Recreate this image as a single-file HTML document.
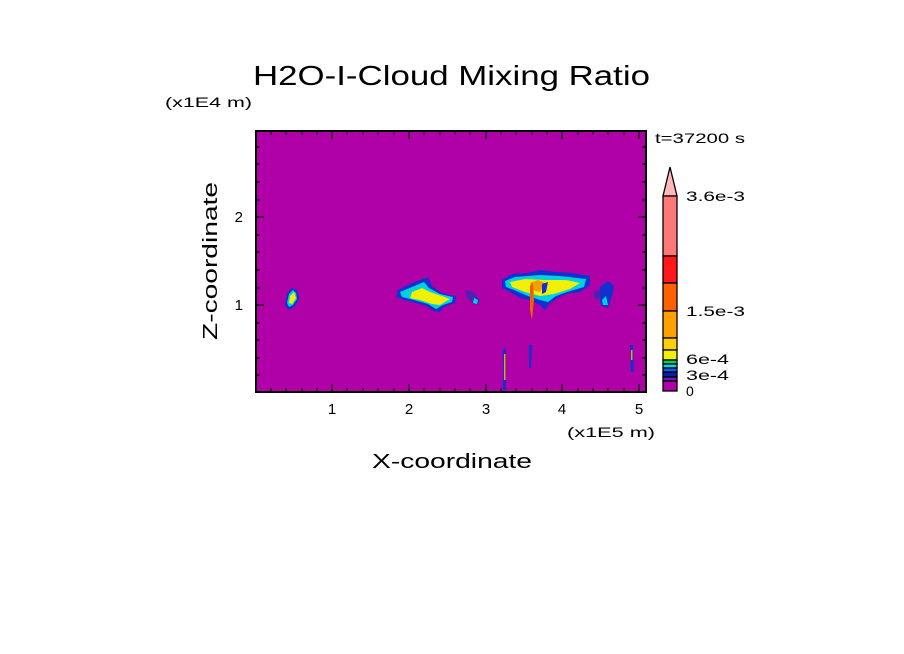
<!DOCTYPE html>
<html><head><meta charset="utf-8"><style>
html,body{margin:0;padding:0;background:#fff;}
svg{display:block;}
text{font-family:"Liberation Sans","DejaVu Sans",sans-serif;fill:#000;}
</style></head><body>
<svg width="904" height="654" viewBox="0 0 904 654" xmlns="http://www.w3.org/2000/svg">
<rect width="904" height="654" fill="#fff"/>
<text x="253" y="85" font-size="28" textLength="397" lengthAdjust="spacingAndGlyphs">H2O-I-Cloud Mixing Ratio</text>
<text x="165" y="107" font-size="14" textLength="87" lengthAdjust="spacingAndGlyphs">(x1E4 m)</text>
<text x="655" y="143" font-size="14" textLength="90" lengthAdjust="spacingAndGlyphs">t=37200 s</text>
<rect x="256" y="131" width="390" height="261" fill="#b000a8"/>
<!-- blob 1 -->
<path d="M287,293 L292,288 L297,290 L299,298 L295,306 L289,310 L285,305 Z" fill="#1030d0"/>
<path d="M289,294 L293,290 L296,293 L297,299 L293,305 L289,307 L287,303 Z" fill="#00d0e0"/>
<path d="M290,296 L294,292 L296,298 L292,304 L289,303 Z" fill="#f0f000"/>
<!-- blob 2 -->
<path d="M398,290 L410,284 L420,280 L428,277 L432,286 L440,292 L449,295 L456,296 L455,303 L444,307 L440,312 L434,311 L426,306 L416,303 L404,300 L396,297 Z" fill="#1030d0"/>
<path d="M400,292 L412,287 L424,282 L429,288 L440,294 L453,297 L452,302 L443,305 L436,309 L428,304 L414,300 L402,297 Z" fill="#00d0e0"/>
<path d="M412,292 L422,288 L430,292 L442,296 L450,299 L440,305 L432,304 L420,300 L410,298 Z" fill="#f0f000"/>
<path d="M466,290 L474,292 L480,300 L478,305 L472,303 L466,296 Z" fill="#5020b0"/>
<path d="M474,298 L478,300 L477,304 L473,303 Z" fill="#00d0e0"/>
<!-- blob 3 -->
<path d="M502,280 L512,274 L528,273 L540,270 L556,272 L572,273 L590,276 L590,285 L580,292 L566,294 L558,298 L550,303 L545,310 L540,305 L530,300 L520,298 L510,292 L502,288 Z" fill="#1030d0"/>
<path d="M505,281 L515,277 L540,275 L560,276 L586,279 L584,287 L570,291 L556,296 L548,302 L540,300 L528,296 L514,290 L506,287 Z" fill="#00d0e0"/>
<path d="M510,282 L525,279 L545,280 L566,280 L580,283 L570,289 L554,294 L540,296 L525,292 L512,287 Z" fill="#f0f000"/>
<path d="M530,283 L538,280 L545,283 L540,292 L532,290 Z" fill="#f0a000"/>
<path d="M530,286 L533,282 L534,300 L532,320 L530,310 Z" fill="#f06000"/>
<path d="M542,284 L548,282 L546,292 L542,294 Z" fill="#1030d0"/>
<path d="M600,287 L608,281 L614,286 L612,296 L608,308 L602,306 L598,296 Z" fill="#1030d0"/>
<path d="M602,300 L606,296 L608,305 L603,305 Z" fill="#00d0e0"/>
<path d="M594,292 L600,290 L600,300 L594,298 Z" fill="#5020b0"/>
<!-- thin columns -->
<path d="M503,350 L506,348 L506,390 L503,390 Z" fill="#1030d0"/>
<path d="M504,354 L505.5,354 L505.5,380 L504,380 Z" fill="#f0a000"/>
<path d="M529,345 L532,345 L531,368 L529,368 Z" fill="#1030d0"/>
<path d="M630,345 L633,345 L634,372 L631,372 Z" fill="#1030d0"/>
<path d="M631,350 L632.5,350 L632.5,360 L631,360 Z" fill="#f0a000"/>
<rect x="256" y="131" width="390" height="261" fill="none" stroke="#000" stroke-width="2"/>
<g stroke="#000" stroke-width="1.2">
<path d="M332,392v-8M409,392v-8M486,392v-8M562,392v-8M639,392v-8M332,131v8M409,131v8M486,131v8M562,131v8M639,131v8"/>
<path d="M271,392v-4M286,392v-4M302,392v-4M317,392v-4M347,392v-4M363,392v-4M378,392v-4M394,392v-4M424,392v-4M440,392v-4M455,392v-4M470,392v-4M501,392v-4M516,392v-4M532,392v-4M547,392v-4M578,392v-4M593,392v-4M608,392v-4M624,392v-4"/>
<path d="M271,131v4M286,131v4M302,131v4M317,131v4M347,131v4M363,131v4M378,131v4M394,131v4M424,131v4M440,131v4M455,131v4M470,131v4M501,131v4M516,131v4M532,131v4M547,131v4M578,131v4M593,131v4M608,131v4M624,131v4"/>
<path d="M256,305h8M256,217h8M646,305h-8M646,217h-8"/>
<path d="M256,375h4M256,358h4M256,340h4M256,323h4M256,288h4M256,270h4M256,252h4M256,235h4M256,200h4M256,182h4M256,164h4M256,147h4"/>
<path d="M646,375h-4M646,358h-4M646,340h-4M646,323h-4M646,288h-4M646,270h-4M646,252h-4M646,235h-4M646,200h-4M646,182h-4M646,164h-4M646,147h-4"/>
</g>
<g font-size="15" text-anchor="middle">
<text x="332" y="414">1</text><text x="409" y="414">2</text><text x="486" y="414">3</text><text x="562" y="414">4</text><text x="639" y="414">5</text>
</g>
<text x="567" y="437" font-size="14" textLength="88" lengthAdjust="spacingAndGlyphs">(x1E5 m)</text>
<text x="372" y="468" font-size="20" textLength="160" lengthAdjust="spacingAndGlyphs">X-coordinate</text>
<text x="243" y="310" font-size="15" text-anchor="end">1</text>
<text x="243" y="222" font-size="15" text-anchor="end">2</text>
<text x="0" y="0" font-size="20" textLength="158" lengthAdjust="spacingAndGlyphs" transform="translate(217 340) rotate(-90)">Z-coordinate</text>
<g stroke="#000" stroke-width="1.3">
<path d="M663,196 L670,167 L677,196 Z" fill="#ffb8b8"/>
<rect x="663" y="196" width="14" height="60" fill="#ff7878"/>
<rect x="663" y="256" width="14" height="27" fill="#ff1818"/>
<rect x="663" y="283" width="14" height="28" fill="#ff6000"/>
<rect x="663" y="311" width="14" height="27" fill="#ffa000"/>
<rect x="663" y="338" width="14" height="12" fill="#ffd000"/>
<rect x="663" y="350" width="14" height="10" fill="#f0f000"/>
<rect x="663" y="360" width="14" height="4" fill="#00d060"/>
<rect x="663" y="364" width="14" height="4" fill="#00d8e8"/>
<rect x="663" y="368" width="14" height="4" fill="#0060ff"/>
<rect x="663" y="372" width="14" height="5" fill="#0020b0"/>
<rect x="663" y="377" width="14" height="4" fill="#6020b0"/>
<rect x="663" y="381" width="14" height="10" fill="#b000a8"/>
</g>
<g font-size="14">
<text x="686" y="201" textLength="59" lengthAdjust="spacingAndGlyphs">3.6e-3</text>
<text x="686" y="316" textLength="59" lengthAdjust="spacingAndGlyphs">1.5e-3</text>
<text x="686" y="364" textLength="43" lengthAdjust="spacingAndGlyphs">6e-4</text>
<text x="686" y="380" textLength="43" lengthAdjust="spacingAndGlyphs">3e-4</text>
<text x="686" y="396">0</text>
</g>
</svg>
</body></html>
